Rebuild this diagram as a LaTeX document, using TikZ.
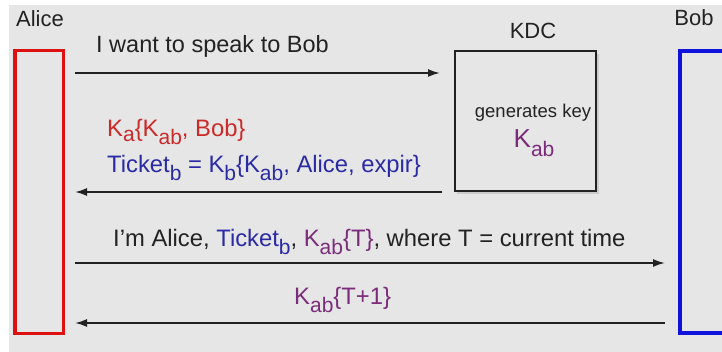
\documentclass[tikz,border=0pt]{standalone}
\usepackage{fontspec}
\setmainfont{Liberation Sans}
\usetikzlibrary{arrows.meta}
\definecolor{bg}{HTML}{E6E6E6}
\definecolor{ink}{HTML}{222222}
\definecolor{abox}{HTML}{DD1111}
\definecolor{bbox}{HTML}{1111DD}
\definecolor{redtxt}{HTML}{CC2929}
\definecolor{bluetxt}{HTML}{2A2AA6}
\definecolor{purp}{HTML}{7A2C7A}
\newcommand\fs[1]{\fontsize{#1}{#1}\selectfont}
\newcommand\lo[2][8]{\raisebox{-#1pt}{\fs{21}#2}}
\begin{document}
\begin{tikzpicture}[x=1pt,y=-1pt,
  msg/.style={draw=ink, line width=1.8pt, -{Latex[length=12pt,width=8pt]}},
  txt/.style={anchor=base west, inner sep=0pt, font=\fs{23.8}, text=ink},
  lbl/.style={anchor=base, inner sep=0pt, font=\fs{22}, text=ink},
  party/.style={draw, line width=3.5pt, inner sep=0pt}]
\useasboundingbox (0,0) rectangle (722,352);
\clip (0,0) rectangle (722,352);
\fill[white] (0,0) rectangle (722,352);
\fill[bg] (9,5) rectangle (722,352);
% parties
\node[party, draw=abox, minimum width=48.5pt, minimum height=282.5pt] (alice) at (39,192) {};
\node[party, draw=bbox, minimum width=80pt, minimum height=282pt] (bob) at (720,192) {};
\fill[black!40, opacity=0.35] (457,54) rectangle (599,194);
\node[draw=ink, fill=bg, line width=2pt, minimum width=141pt, minimum height=140pt, inner sep=0pt] (kdc) at (525.5,121) {};
% labels
\node[lbl] (alicelbl) at (40,27) {Alice};
\node[lbl] (boblbl) at (694,26) {Bob};
\node[lbl] (kdclbl) at (533,39) {KDC};
\node[anchor=base, inner sep=0pt, font=\fs{18.5}, text=ink] (gen) at (533,118) {generates key};
\node[anchor=base, inner sep=0pt, font=\fs{26}, text=purp] (kab) at (534,148) {K\lo[9]{ab}};
% messages
\coordinate (m1s) at (75,73);   \coordinate (m1e) at (440,73);
\coordinate (m2s) at (442,192); \coordinate (m2e) at (75,192);
\coordinate (m3s) at (75,263);  \coordinate (m3e) at (665,263);
\coordinate (m4s) at (665,323); \coordinate (m4e) at (75,323);
\draw[msg] (m1s) -- (m1e);
\draw[msg] (m2s) -- (m2e);
\draw[msg] (m3s) -- (m3e);
\draw[msg] (m4s) -- (m4e);
\node[txt, font=\fs{23.5}] (t1) at (96,53) {I want to speak to Bob};
\node[txt, text=redtxt] (t2) at (107,137) {K\lo[5]{a}\{K\lo{ab}, Bob\}};
\node[txt, text=bluetxt] (t3) at (107,173) {Ticket\lo{b} = K\lo{b}\{K\lo{ab}, Alice, expir\}};
\node[txt] (t4) at (113,247) {I'm Alice, \textcolor{bluetxt}{Ticket\lo{b}}, \textcolor{purp}{K\lo{ab}\{T\}}, where T = current time};
\node[txt, text=purp] (t5) at (294,305) {K\lo{ab}\{T+1\}};
\end{tikzpicture}
\end{document}
